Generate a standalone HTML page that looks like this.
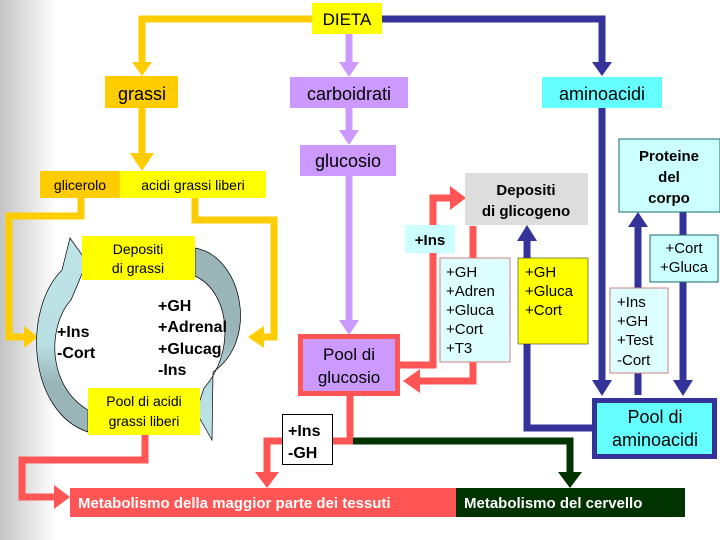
<!DOCTYPE html>
<html><head><meta charset="utf-8"><style>
html,body{margin:0;padding:0;background:#fff;}
svg{display:block;font-family:"Liberation Sans",Arial,sans-serif;}
</style></head><body>
<svg width="720" height="540" viewBox="0 0 720 540" xmlns="http://www.w3.org/2000/svg">
<defs>
<linearGradient id="g" x1="0" x2="1" y1="0" y2="0">
<stop offset="0" stop-color="#c4c4c4"/><stop offset="1" stop-color="#ffffff"/>
</linearGradient>
<linearGradient id="la" x1="0" x2="0" y1="0" y2="1">
<stop offset="0" stop-color="#bfe4e8"/><stop offset="0.55" stop-color="#b8dfe3"/><stop offset="0.75" stop-color="#99b5b8"/><stop offset="1" stop-color="#99b5b8"/>
</linearGradient>
<linearGradient id="ra" x1="0" x2="0" y1="0" y2="1">
<stop offset="0" stop-color="#99b5b8"/><stop offset="0.45" stop-color="#99b5b8"/><stop offset="0.75" stop-color="#b8dfe3"/><stop offset="1" stop-color="#bfe4e8"/>
</linearGradient>
</defs>
<rect x="0" y="0" width="56" height="540" fill="url(#g)"/>

<!-- orange/yellow connectors -->
<g fill="none" stroke="#ffcc00" stroke-width="7">
<path d="M312 19 H142 V64"/>
<path d="M142 107 V155"/>
<path d="M81 198 V216 H9 V337 H26"/>
<path d="M195 198 V220 H274 V337 H262"/>
</g>
<g fill="#ffcc00">
<polygon points="132,62 152,62 142,76"/>
<polygon points="130,153 154,153 142,171"/>
<polygon points="24,326 24,348 38,337"/>
<polygon points="264,326 264,348 248,337"/>
</g>

<!-- purple -->
<g fill="none" stroke="#cc99ff" stroke-width="7">
<path d="M349 34 V64"/><path d="M349 108 V132"/><path d="M349 176 V322"/>
</g>
<g fill="#cc99ff">
<polygon points="339,62 359,62 349,77"/>
<polygon points="339,130 359,130 349,145"/>
<polygon points="339,320 359,320 349,335"/>
</g>

<!-- blue -->
<g fill="none" stroke="#333399" stroke-width="7">
<path d="M382 19 H602 V64"/>
<path d="M602 108 V382"/>
<path d="M592 428 H527 V240"/>
<path d="M638 395 V226"/>
<path d="M683 212 V382"/>
</g>
<g fill="#333399">
<polygon points="592,62 612,62 602,76"/>
<polygon points="592,380 612,380 602,396"/>
<polygon points="517,241 537,241 527,225"/>
<polygon points="628,227 648,227 638,212"/>
<polygon points="673,380 693,380 683,396"/>
</g>

<!-- red -->
<g fill="none" stroke="#ff5555" stroke-width="7">
<path d="M400 365 H433 V198 H452"/>
<path d="M473 226 V381 H418"/>
<path d="M350 396 V441 H267 V474"/>
<path d="M145 435 V460 H22 V497 H56"/>
</g>
<g fill="#ff5555">
<polygon points="450,186 450,210 466,198"/>
<polygon points="420,369 420,393 403,381"/>
<polygon points="255,472 279,472 267,488"/>
<polygon points="54,485 54,509 70,497"/>
</g>
<!-- green -->
<path d="M353 441 H570 V474" fill="none" stroke="#003300" stroke-width="7"/>
<polygon points="558,472 582,472 570,488" fill="#003300"/>

<!-- cycle arrows -->
<path d="M70,238 L87,262 L71,300 C48,325 46,385 88,410 L88,432 C28,412 22,310 62,270 Z" fill="url(#la)" stroke="#000" stroke-width="0.7"/>
<path d="M195,248 C242,256 260,340 213,372 L212,440 L196,412 L204,388 C236,352 230,292 195,276 Z" fill="url(#ra)" stroke="#000" stroke-width="0.7"/>

<!-- boxes -->
<rect x="312" y="3" width="70" height="31" fill="#ffff00"/>
<text x="347" y="25" font-size="17" text-anchor="middle">DIETA</text>
<rect x="105" y="76" width="73" height="32" fill="#ffcc00"/>
<text x="142" y="100" font-size="18" text-anchor="middle">grassi</text>
<rect x="290" y="77" width="118" height="31" fill="#cc99ff"/>
<text x="349" y="100" font-size="18" text-anchor="middle">carboidrati</text>
<rect x="542" y="77" width="120" height="31" fill="#66ffff"/>
<text x="602" y="100" font-size="18" text-anchor="middle">aminoacidi</text>
<rect x="300" y="145" width="96" height="31" fill="#cc99ff"/>
<text x="348" y="167" font-size="18" text-anchor="middle">glucosio</text>
<rect x="40" y="171" width="80" height="27" fill="#ffcc00"/>
<rect x="120" y="171" width="146" height="27" fill="#ffff00"/>
<text x="80" y="190" font-size="14" text-anchor="middle">glicerolo</text>
<text x="193" y="190" font-size="14" text-anchor="middle">acidi grassi liberi</text>

<rect x="465" y="173" width="123" height="52" fill="#dddddd"/>
<text x="526" y="195" font-size="15" font-weight="bold" text-anchor="middle">Depositi</text>
<text x="526" y="216" font-size="15" font-weight="bold" text-anchor="middle">di glicogeno</text>
<rect x="619" y="139" width="101" height="73" fill="#ccffff" stroke="#1a6a6a" stroke-width="1"/>
<text x="669" y="161" font-size="15" font-weight="bold" text-anchor="middle">Proteine</text>
<text x="669" y="182" font-size="15" font-weight="bold" text-anchor="middle">del</text>
<text x="669" y="203" font-size="15" font-weight="bold" text-anchor="middle">corpo</text>

<rect x="405" y="225" width="50" height="28" fill="#ccffff"/>
<text x="430" y="245" font-size="15" font-weight="bold" text-anchor="middle">+Ins</text>
<rect x="440" y="258" width="70" height="104" fill="#ddffff" stroke="#d08080" stroke-width="1"/>
<g font-size="15" ><text x="446" y="277">+GH</text><text x="446" y="296">+Adren</text><text x="446" y="315">+Gluca</text><text x="446" y="334">+Cort</text><text x="446" y="353">+T3</text></g>
<rect x="518" y="258" width="70" height="86" fill="#ffff00" stroke="#333" stroke-width="0.6"/>
<g font-size="15"><text x="525" y="277">+GH</text><text x="525" y="296">+Gluca</text><text x="525" y="315">+Cort</text></g>
<rect x="650" y="235" width="68" height="47" fill="#ccffff" stroke="#1a6a6a" stroke-width="1"/>
<text x="684" y="253" font-size="15" text-anchor="middle">+Cort</text>
<text x="684" y="272" font-size="15" text-anchor="middle">+Gluca</text>
<rect x="610" y="288" width="58" height="85" fill="#ddffff" stroke="#d08080" stroke-width="1"/>
<g font-size="15"><text x="617" y="307">+Ins</text><text x="617" y="326">+GH</text><text x="617" y="345">+Test</text><text x="617" y="365">-Cort</text></g>

<rect x="300.5" y="336.5" width="97" height="57" fill="#cc99ff" stroke="#ff5555" stroke-width="5"/>
<text x="349" y="360" font-size="17" text-anchor="middle">Pool di</text>
<text x="349" y="383" font-size="17" text-anchor="middle">glucosio</text>
<rect x="594.5" y="400.5" width="120" height="56" fill="#66ffff" stroke="#333399" stroke-width="5"/>
<text x="655" y="423" font-size="18" text-anchor="middle">Pool di</text>
<text x="655" y="446" font-size="18" text-anchor="middle">aminoacidi</text>

<rect x="282.5" y="414.5" width="50" height="50" fill="#fff" stroke="#000" stroke-width="1"/>
<text x="288" y="436" font-size="16" font-weight="bold">+Ins</text>
<text x="288" y="458" font-size="16" font-weight="bold">-GH</text>

<rect x="82" y="236" width="113" height="44" fill="#ffff00"/>
<text x="138" y="254" font-size="14" text-anchor="middle">Depositi</text>
<text x="138" y="273" font-size="14" text-anchor="middle">di grassi</text>
<rect x="88" y="388" width="112" height="47" fill="#ffff00"/>
<text x="144" y="406" font-size="14" text-anchor="middle">Pool di acidi</text>
<text x="144" y="426" font-size="14" text-anchor="middle">grassi liberi</text>
<g font-size="16" font-weight="bold">
<text x="57" y="337">+Ins</text><text x="57" y="358">-Cort</text>
<text x="158" y="311">+GH</text><text x="158" y="332">+Adrenal</text><text x="158" y="354">+Glucag</text><text x="158" y="375">-Ins</text>
</g>

<rect x="70" y="488" width="386" height="29" fill="#ff5555"/>
<rect x="456" y="488" width="229" height="29" fill="#003300"/>
<text x="78" y="508" font-size="15" font-weight="bold" fill="#fff">Metabolismo della maggior parte dei tessuti</text>
<text x="464" y="508" font-size="15" font-weight="bold" fill="#fff">Metabolismo del cervello</text>
</svg>
</body></html>
